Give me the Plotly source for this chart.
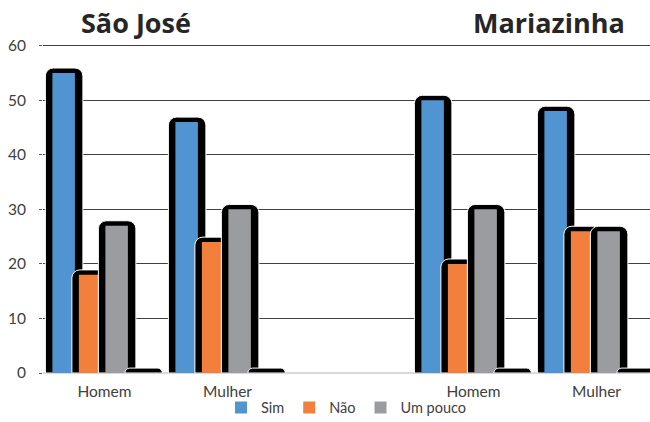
import plotly.graph_objects as go

# ---- data ----
towns = ["São José", "Mariazinha"]
sexes = ["Homem", "Mulher"]
series_names = ["Sim", "Não", "Um pouco", ""]
# values per series, order: São José Homem, São José Mulher, Mariazinha Homem, Mariazinha Mulher
sim = [55, 46, 50, 48]
nao = [18, 24, 20, 26]
um_pouco = [27, 30, 30, 26]
extra = [0, 0, 0, 0]
y_ticks = [0, 10, 20, 30, 40, 50, 60]

series_values = [sim, nao, um_pouco, extra]
colors = ["#5094d2", "#f2803c", "#9b9c9f", None]

# category positions: towns separated by an empty slot
pos = []
labels = []
for t, town in enumerate(towns):
    for s, sex in enumerate(sexes):
        pos.append(t * 3 + s)
        labels.append(sex)

fig = go.Figure()
w_in = 0.183       # inner bar width (category units)
w_out = 0.305      # black outline width
step = 0.2154
for i, (name, vals, col) in enumerate(zip(series_names, series_values, colors)):
    c = (i - 1.5) * step - 0.009
    fig.add_trace(go.Bar(
        x=pos, y=[v + 0.9 for v in vals], offset=c - w_out / 2 + 0.004, width=w_out,
        marker=dict(color="black", line=dict(color="white", width=1), cornerradius=8),
        showlegend=False, hoverinfo="skip"))
    if col is not None:
        fig.add_trace(go.Bar(
            x=pos, y=vals, name=name, offset=c - w_in / 2, width=w_in,
            marker=dict(color=col, line=dict(width=0))))

fig.update_layout(
    barmode="overlay",
    width=650, height=422,
    margin=dict(l=43, r=0, t=44, b=49, autoexpand=False),
    plot_bgcolor="white", paper_bgcolor="white",
    font=dict(family="Lato", size=15, color="#404040"),
    showlegend=True,
    legend=dict(orientation="h", x=0.5, xanchor="center", y=-0.1535, yanchor="bottom",
                font=dict(size=14.5, color="#404040"), itemwidth=30,
                bgcolor="rgba(0,0,0,0)", traceorder="normal"),
    xaxis=dict(range=[-0.5, 4.435], tickvals=pos, ticktext=labels,
               showgrid=False, zeroline=False, showline=False, ticks="",
               ticklabelstandoff=7, tickfont=dict(size=15.5)),
    yaxis=dict(range=[0, 60.3], tickvals=y_ticks, showgrid=True, gridcolor="#404040",
               gridwidth=1, zeroline=True, zerolinecolor="#d9d9d9", zerolinewidth=2,
               ticks="outside", ticklen=3, tickcolor="#595959", ticklabelstandoff=10,
               tickfont=dict(size=15.5)),
)

title_x = [0.153, 0.834]
for town, tx in zip(towns, title_x):
    fig.add_annotation(text="<b>" + town + "</b>", x=tx, y=1.0655, xref="paper", yref="paper",
                       xanchor="center", yanchor="middle", showarrow=False,
                       font=dict(family="Open Sans", size=27, color="#262626"))

fig.write_html("out.html")
